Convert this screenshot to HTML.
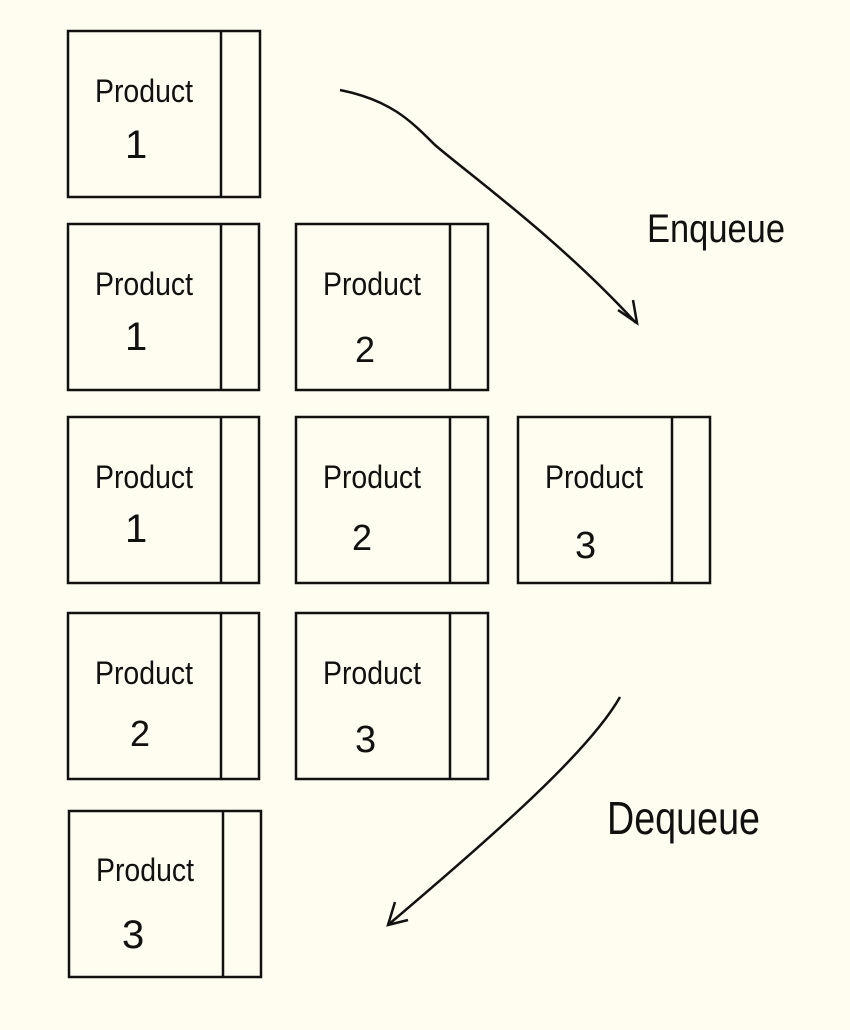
<!DOCTYPE html>
<html><head><meta charset="utf-8"><style>
html,body{margin:0;padding:0;background:#fffdf0;}
svg{display:block;}
text{font-family:"Liberation Sans",sans-serif;fill:#111;}
</style></head><body>
<svg width="850" height="1030" viewBox="0 0 850 1030" xmlns="http://www.w3.org/2000/svg">
<rect width="850" height="1030" fill="#fffdf0"/>
<g fill="none" stroke="#111" stroke-width="2.5">
<rect x="68" y="31" width="192" height="166"/><line x1="221" y1="31" x2="221" y2="197"/>
<rect x="68" y="224" width="191" height="166"/><line x1="221" y1="224" x2="221" y2="390"/>
<rect x="296" y="224" width="192" height="166"/><line x1="450" y1="224" x2="450" y2="390"/>
<rect x="68" y="417" width="191" height="166"/><line x1="221" y1="417" x2="221" y2="583"/>
<rect x="296" y="417" width="192" height="166"/><line x1="450" y1="417" x2="450" y2="583"/>
<rect x="518" y="417" width="192" height="166"/><line x1="672" y1="417" x2="672" y2="583"/>
<rect x="68" y="613" width="191" height="166"/><line x1="221" y1="613" x2="221" y2="779"/>
<rect x="296" y="613" width="192" height="166"/><line x1="450" y1="613" x2="450" y2="779"/>
<rect x="69" y="811" width="192" height="166"/><line x1="223" y1="811" x2="223" y2="977"/>
<path d="M340 90 C390 100 410 120 435 145 C470 175 560 240 636 323"/>
<path d="M618 310 L637 323 L633 300"/>
<path d="M620 697 C590 750 500 830 388 925"/>
<path d="M395 902 L388 925 L408 920"/>
</g>
<g font-size="32">
<text x="95" y="102" textLength="98" lengthAdjust="spacingAndGlyphs">Product</text><text x="125" y="158" font-size="40">1</text>
<text x="95" y="295" textLength="98" lengthAdjust="spacingAndGlyphs">Product</text><text x="125" y="350" font-size="40">1</text>
<text x="323" y="295" textLength="98" lengthAdjust="spacingAndGlyphs">Product</text><text x="355" y="362" font-size="36">2</text>
<text x="95" y="488" textLength="98" lengthAdjust="spacingAndGlyphs">Product</text><text x="125" y="542" font-size="40">1</text>
<text x="323" y="488" textLength="98" lengthAdjust="spacingAndGlyphs">Product</text><text x="352" y="550" font-size="36">2</text>
<text x="545" y="488" textLength="98" lengthAdjust="spacingAndGlyphs">Product</text><text x="575" y="558" font-size="38">3</text>
<text x="95" y="684" textLength="98" lengthAdjust="spacingAndGlyphs">Product</text><text x="130" y="746" font-size="36">2</text>
<text x="323" y="684" textLength="98" lengthAdjust="spacingAndGlyphs">Product</text><text x="355" y="752" font-size="38">3</text>
<text x="96" y="881" textLength="98" lengthAdjust="spacingAndGlyphs">Product</text><text x="122" y="948" font-size="40">3</text>
<text x="647" y="242" font-size="40" textLength="138" lengthAdjust="spacingAndGlyphs">Enqueue</text>
<text x="607" y="834" font-size="46" textLength="153" lengthAdjust="spacingAndGlyphs">Dequeue</text>
</g>
</svg>
</body></html>
